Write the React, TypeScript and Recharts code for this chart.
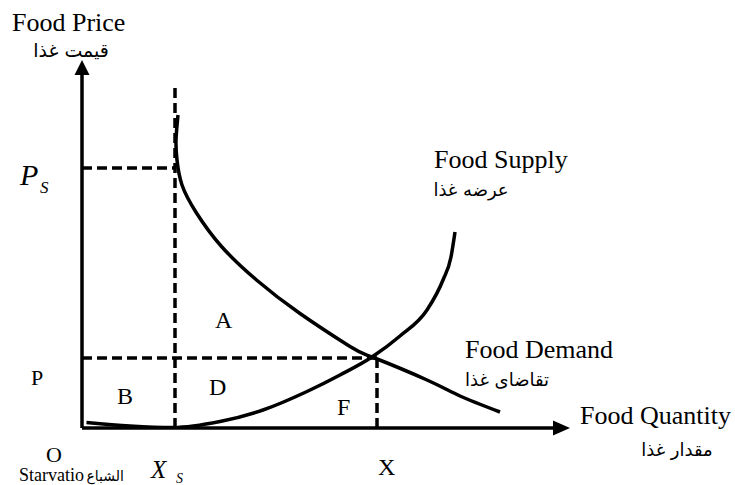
import { ComposedChart, Line, XAxis, YAxis, ReferenceLine, ReferenceDot, Customized } from 'recharts';

// quantity (q) and price (p) in arbitrary diagram units
const demandQ = [19.2, 18.8, 19.0, 20.0, 22.9, 27.9, 34.9, 43.6, 53.6, 58.0, 69.0, 75.6, 83.6];
const demandP = [62.6, 57.6, 53.6, 48.6, 43.0, 36.3, 29.6, 22.9, 16.3, 14.2, 9.6, 6.4, 3.2];
const supplyQ = [0.9, 9.6, 18.2, 27.6, 36.2, 45.0, 51.6, 58.0, 63.6, 69.0, 72.2, 73.8, 74.6];
const supplyP = [1.1, 0.4, 0.1, 1.3, 3.6, 7.3, 10.6, 14.2, 18.4, 23.6, 29.6, 34.2, 39.2];

const satiationQ = 18.6; // X_S
const satiationTop = 68;
const satiationP = 52; // P_S
const eqQ = 59; // X
const eqP = 14; // P
const axisEndQ = 94.2;
const axisEndP = 70.6;

const demandData = demandQ.map((q, i) => ({ q, p: demandP[i] }));
const supplyData = supplyQ.map((q, i) => ({ q, p: supplyP[i] }));

const serif = "'Liberation Serif', 'Times New Roman', serif";
const arabic = "'DejaVu Sans', sans-serif";

const UpArrow = (props: any) => {
  const { cx, cy } = props;
  return <polygon points={`${cx - 7.5},${cy} ${cx + 7.5},${cy} ${cx},${cy - 15}`} fill='#000' />;
};

const RightArrow = (props: any) => {
  const { cx, cy } = props;
  return <polygon points={`${cx},${cy - 7.5} ${cx},${cy + 7.5} ${cx + 17},${cy}`} fill='#000' />;
};

const Labels = () => (
  <g fill='#000'>
    <text x={12} y={31} fontFamily={serif} fontSize={26}>Food Price</text>
    <text x={71} y={57} fontFamily={arabic} fontSize={19} textAnchor='middle'>قیمت غذا</text>

    <text x={20} y={185} fontFamily={serif} fontSize={30} fontStyle='italic'>P</text>
    <text x={40} y={193} fontFamily={serif} fontSize={17} fontStyle='italic'>S</text>
    <text x={31} y={385} fontFamily={serif} fontSize={22}>P</text>

    <text x={46} y={462} fontFamily={serif} fontSize={22}>O</text>
    <text x={19} y={481} fontFamily={serif} fontSize={18}>Starvatio</text>
    <text x={124} y={481} fontFamily={arabic} fontSize={14} textAnchor='end'>الشباع</text>
    <text x={151} y={478} fontFamily={serif} fontSize={25} fontStyle='italic'>X</text>
    <text x={176} y={483} fontFamily={serif} fontSize={14} fontStyle='italic'>S</text>
    <text x={378} y={475} fontFamily={serif} fontSize={24}>X</text>

    <text x={215} y={328} fontFamily={serif} fontSize={24}>A</text>
    <text x={117} y={404} fontFamily={serif} fontSize={24}>B</text>
    <text x={209} y={395} fontFamily={serif} fontSize={24}>D</text>
    <text x={337} y={415} fontFamily={serif} fontSize={24}>F</text>

    <text x={434} y={168} fontFamily={serif} fontSize={26}>Food Supply</text>
    <text x={471} y={196} fontFamily={arabic} fontSize={18} textAnchor='middle'>عرضه غذا</text>
    <text x={465} y={358} fontFamily={serif} fontSize={26}>Food Demand</text>
    <text x={507} y={386} fontFamily={arabic} fontSize={18} textAnchor='middle'>تقاضای غذا</text>
    <text x={580} y={424} fontFamily={serif} fontSize={26}>Food Quantity</text>
    <text x={677} y={456} fontFamily={arabic} fontSize={18} textAnchor='middle'>مقدار غذا</text>
  </g>
);

export default function App() {
  return (
    <div style={{ position: 'absolute', left: 0, top: 0, width: 735, height: 485, background: '#fff' }}>
      <ComposedChart width={735} height={485} margin={{ top: 28, right: 153, bottom: 57, left: 82 }}>
        <XAxis type='number' dataKey='q' domain={[0, 100]} hide allowDataOverflow />
        <YAxis type='number' dataKey='p' domain={[0, 80]} hide allowDataOverflow />

        {/* guide lines */}
        <ReferenceLine segment={[{ x: satiationQ, y: 0 }, { x: satiationQ, y: satiationTop }]} stroke='#000' strokeWidth={3.5} strokeDasharray='10 5' />
        <ReferenceLine segment={[{ x: 0, y: satiationP }, { x: satiationQ, y: satiationP }]} stroke='#000' strokeWidth={3.5} strokeDasharray='10 5' />
        <ReferenceLine segment={[{ x: 0, y: eqP }, { x: eqQ, y: eqP }]} stroke='#000' strokeWidth={3.5} strokeDasharray='10 5' />
        <ReferenceLine segment={[{ x: eqQ, y: 0 }, { x: eqQ, y: eqP }]} stroke='#000' strokeWidth={3.5} strokeDasharray='10 5' />

        <Line data={demandData} dataKey='p' type='natural' stroke='#000' strokeWidth={3.5} dot={false} activeDot={false} isAnimationActive={false} />
        <Line data={supplyData} dataKey='p' type='monotoneX' stroke='#000' strokeWidth={3.5} dot={false} activeDot={false} isAnimationActive={false} />

        {/* axes */}
        <ReferenceLine segment={[{ x: 0, y: 0 }, { x: 0, y: axisEndP }]} stroke='#000' strokeWidth={3.5} />
        <ReferenceLine segment={[{ x: 0, y: 0 }, { x: axisEndQ, y: 0 }]} stroke='#000' strokeWidth={3.5} />
        <ReferenceDot x={0} y={axisEndP} r={0} shape={UpArrow} />
        <ReferenceDot x={axisEndQ} y={0} r={0} shape={RightArrow} />

        <Customized component={Labels} />
      </ComposedChart>
    </div>
  );
}
